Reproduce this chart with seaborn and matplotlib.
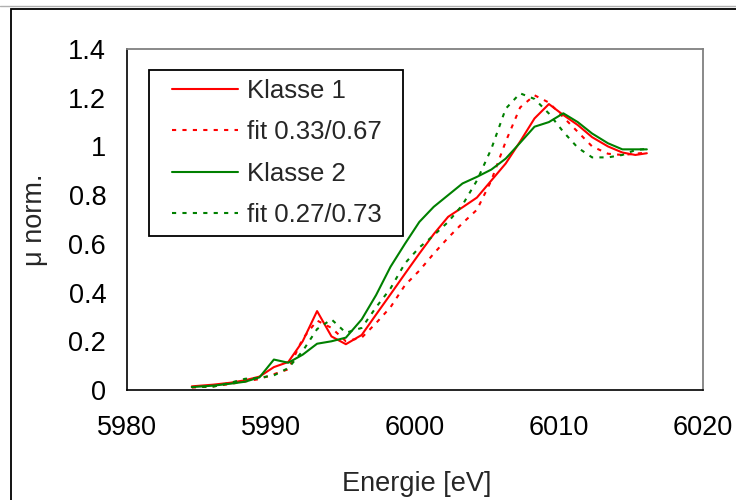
import matplotlib
matplotlib.use("Agg")
import matplotlib.pyplot as plt
from matplotlib.patches import Rectangle
from matplotlib.lines import Line2D
import numpy as np
import pandas as pd
import seaborn as sns

# Energy grid (eV)
energy = [5984.5, 5986.0, 5987.2, 5988.2, 5989.2, 5990.2, 5991.2, 5992.2,
          5993.2, 5994.2, 5995.2, 5996.3, 5997.3, 5998.3, 5999.3, 6000.3,
          6001.3, 6002.3, 6003.3, 6004.3, 6005.3, 6006.3, 6007.3, 6008.3,
          6009.3, 6010.3, 6011.3, 6012.3, 6013.4, 6014.4, 6015.3, 6016.1]

# Normalised absorption of the two classes and their linear-combination fits
klasse1 = [0.015, 0.022, 0.030, 0.040, 0.055, 0.094, 0.115, 0.200,
           0.324, 0.220, 0.188, 0.226, 0.310, 0.393, 0.477, 0.560,
           0.640, 0.711, 0.750, 0.790, 0.860, 0.930, 1.020, 1.115,
           1.174, 1.129, 1.088, 1.038, 1.000, 0.975, 0.965, 0.972]
fit1 = [0.010, 0.015, 0.025, 0.035, 0.045, 0.065, 0.085, 0.210,
        0.285, 0.255, 0.200, 0.215, 0.275, 0.340, 0.430, 0.490,
        0.560, 0.625, 0.685, 0.740, 0.860, 1.020, 1.160, 1.210,
        1.180, 1.120, 1.060, 1.000, 0.970, 0.965, 0.970, 0.975]
klasse2 = [0.012, 0.018, 0.026, 0.034, 0.052, 0.125, 0.112, 0.145,
           0.190, 0.200, 0.215, 0.290, 0.390, 0.506, 0.600, 0.690,
           0.752, 0.800, 0.848, 0.875, 0.905, 0.950, 1.015, 1.081,
           1.100, 1.136, 1.100, 1.053, 1.013, 0.988, 0.988, 0.988]
fit2 = [0.012, 0.014, 0.030, 0.046, 0.050, 0.060, 0.090, 0.160,
        0.250, 0.290, 0.235, 0.255, 0.340, 0.417, 0.520, 0.585,
        0.635, 0.690, 0.760, 0.860, 0.990, 1.155, 1.218, 1.195,
        1.135, 1.060, 0.995, 0.955, 0.955, 0.965, 0.985, 0.990]

series_names = ["Klasse 1", "fit 0.33/0.67", "Klasse 2", "fit 0.27/0.73"]
series_values = [klasse1, fit1, klasse2, fit2]

x_ticks = [5980, 5990, 6000, 6010, 6020]
y_ticks = [0, 0.2, 0.4, 0.6, 0.8, 1.0, 1.2, 1.4]
y_tick_labels = ["0", "0.2", "0.4", "0.6", "0.8", "1", "1.2", "1.4"]

df = pd.concat(
    [pd.DataFrame({"Energie": energy, "mu": vals, "Serie": name})
     for name, vals in zip(series_names, series_values)],
    ignore_index=True,
)

sns.set_style("white")
plt.rcParams["font.family"] = ["Liberation Sans", "DejaVu Sans"]

W, H = 736, 500
fig = plt.figure(figsize=(W / 100, H / 100), dpi=100)
fig.patch.set_facecolor("white")

def fx(px):
    return px / W

def fy(py):
    return 1 - py / H

ax = fig.add_axes([fx(127), fy(390), (703 - 127) / W, (390 - 49) / H])

colors = {"Klasse 1": "#FF0000", "fit 0.33/0.67": "#FF0000",
          "Klasse 2": "#008000", "fit 0.27/0.73": "#008000"}
dash_map = {"Klasse 1": "", "fit 0.33/0.67": (2, 3),
            "Klasse 2": "", "fit 0.27/0.73": (2, 3)}

sns.lineplot(data=df, x="Energie", y="mu", hue="Serie", style="Serie",
             hue_order=series_names, style_order=series_names,
             palette=colors, dashes=dash_map, estimator=None, sort=False,
             linewidth=1.5, ax=ax, legend=False)

ax.set_xlim(5980, 6020)
ax.set_ylim(0, 1.4)
ax.set_xticks(x_ticks)
ax.set_xticklabels([str(t) for t in x_ticks])
ax.set_yticks(y_ticks)
ax.set_yticklabels(y_tick_labels)
ax.tick_params(axis="both", direction="out", length=5, width=1.0,
               color="black", labelsize=19.5, labelcolor="black")
ax.tick_params(axis="x", pad=13)
ax.tick_params(axis="y", pad=10)
ax.set_xlabel("")
ax.set_ylabel("")

for side in ["top", "right"]:
    ax.spines[side].set_color("#808080")
    ax.spines[side].set_linewidth(1.3)
for side in ["left", "bottom"]:
    ax.spines[side].set_color("black")
    ax.spines[side].set_linewidth(1.2)

fig.text(fx(417), fy(484), "Energie [eV]", ha="center", va="center",
         fontsize=19.5)
fig.text(fx(35), fy(220), "μ norm.", ha="center", va="center",
         rotation=90, fontsize=19.5)

# Legend box
fig.patches.append(Rectangle((fx(149), fy(236)), (403 - 149) / W, (236 - 70) / H,
                             transform=fig.transFigure, facecolor="white",
                             edgecolor="black", linewidth=1.3, zorder=5))
handles = [Line2D([], [], color=colors[n], linewidth=1.5,
                  linestyle="-" if dash_map[n] == "" else (0, (2, 3)))
           for n in series_names]
leg = fig.legend(handles, series_names, loc="upper left",
                 bbox_to_anchor=(fx(172), fy(79)), bbox_transform=fig.transFigure,
                 frameon=False, fontsize=18.5, handlelength=2.55,
                 handletextpad=0.35, labelspacing=0.68, borderpad=0,
                 borderaxespad=0)
leg.set_zorder(6)

# Outer chart border
fig.add_artist(Line2D([0, 1], [fy(6), fy(6)], transform=fig.transFigure,
                      color="#b0b0b0", linewidth=1.0))
fig.patches.append(Rectangle((fx(11), -0.1), 1.2, fy(9) + 0.1,
                             transform=fig.transFigure, facecolor="none",
                             edgecolor="black", linewidth=1.3))

fig.savefig("out.png", dpi=100, facecolor="white")
